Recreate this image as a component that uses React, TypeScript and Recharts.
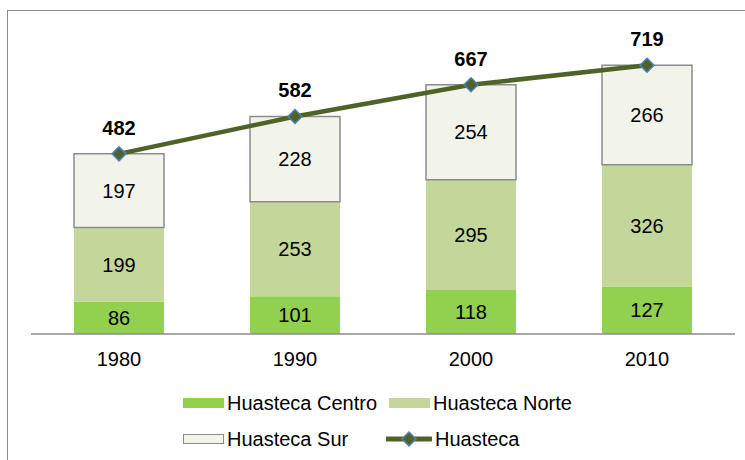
import { ComposedChart, Bar, Line, XAxis, YAxis, LabelList } from 'recharts';

const years = ['1980', '1990', '2000', '2010'];
const centro = [86, 101, 118, 127];
const norte = [199, 253, 295, 326];
const sur = [197, 228, 254, 266];
const total = [482, 582, 667, 719];

const FONT = '"Liberation Sans", Arial, sans-serif';
const FS = 20;

const data = years.map((year, i) => ({
    year,
    centro: centro[i],
    norte: norte[i],
    sur: sur[i],
    total: total[i],
}));

function Diamond(props: any) {
    const { cx, cy } = props;
    if (cx == null || cy == null) return null;
    const r = 7;
    return (
        <path
            d={`M${cx},${cy - r} L${cx + r},${cy} L${cx},${cy + r} L${cx - r},${cy} Z`}
            fill="#4F6228"
            stroke="#4F81BD"
            strokeWidth={1.5}
        />
    );
}

const legendText = { fontFamily: FONT, fontSize: FS, color: '#000', lineHeight: '20px' };

function LegendItem({ left, top, label, kind }: { left: number; top: number; label: string; kind: string }) {
    let swatch;
    if (kind === 'line') {
        swatch = (
            <svg width={46} height={20} style={{ display: 'block' }}>
                <line x1={1} y1={10} x2={45} y2={10} stroke="#4F6228" strokeWidth={5} strokeLinecap="round" />
                <path d="M23,3 L30,10 L23,17 L16,10 Z" fill="#4F6228" stroke="#4F81BD" strokeWidth={1.5} />
            </svg>
        );
    } else {
        const fill = kind === 'centro' ? '#92D050' : kind === 'norte' ? '#C4D79B' : '#F2F4EA';
        swatch = (
            <div
                style={{
                    width: kind === 'sur' ? 39 : 41,
                    height: kind === 'sur' ? 8 : 10,
                    background: fill,
                    border: kind === 'sur' ? '1.5px solid #8C8C8C' : 'none',
                    margin: '5px 0',
                }}
            />
        );
    }
    return (
        <div style={{ position: 'absolute', left, top, display: 'flex', alignItems: 'center', gap: 3 }}>
            {swatch}
            <span style={legendText}>{label}</span>
        </div>
    );
}

export default function App() {
    const labelStyle = { fontFamily: FONT, fontSize: FS, fill: '#000' };
    return (
        <div style={{ position: 'absolute', left: 0, top: 0, width: 745, height: 460, overflow: 'hidden', background: '#fff' }}>
            <div
                style={{
                    position: 'absolute',
                    left: 7,
                    top: 10,
                    width: 800,
                    height: 500,
                    border: '1.5px solid #8C8C8C',
                }}
            />
            <div style={{ position: 'absolute', left: 0, top: 0 }}>
                <ComposedChart
                    width={745}
                    height={460}
                    data={data}
                    margin={{ top: 35, right: 10, left: 31, bottom: 0 }}
                >
                    <XAxis
                        dataKey="year"
                        height={126}
                        tickLine={false}
                        axisLine={{ stroke: '#8C8C8C', strokeWidth: 1.5 }}
                        tick={{ fontFamily: FONT, fontSize: FS, fill: '#000' }}
                        tickMargin={12}
                    />
                    <YAxis hide domain={[0, 800]} />
                    <Bar dataKey="centro" stackId="a" fill="#92D050" barSize={90} isAnimationActive={false}>
                        <LabelList dataKey="centro" position="center" style={labelStyle} />
                    </Bar>
                    <Bar dataKey="norte" stackId="a" fill="#C4D79B" barSize={90} isAnimationActive={false}>
                        <LabelList dataKey="norte" position="center" style={labelStyle} />
                    </Bar>
                    <Bar dataKey="sur" stackId="a" fill="#F2F4EA" stroke="#8C8C8C" strokeWidth={1.5} barSize={90} isAnimationActive={false}>
                        <LabelList dataKey="sur" position="center" style={labelStyle} />
                    </Bar>
                    <Line
                        dataKey="total"
                        stroke="#4F6228"
                        strokeWidth={4.5}
                        dot={<Diamond />}
                        activeDot={false}
                        isAnimationActive={false}
                    >
                        <LabelList
                            dataKey="total"
                            position="top"
                            offset={19}
                            style={{ ...labelStyle, fontWeight: 'bold' }}
                        />
                    </Line>
                </ComposedChart>
            </div>
            <LegendItem left={183} top={393} label="Huasteca Centro" kind="centro" />
            <LegendItem left={389} top={393} label="Huasteca Norte" kind="norte" />
            <LegendItem left={183} top={429} label="Huasteca Sur" kind="sur" />
            <LegendItem left={386} top={429} label="Huasteca" kind="line" />
        </div>
    );
}
